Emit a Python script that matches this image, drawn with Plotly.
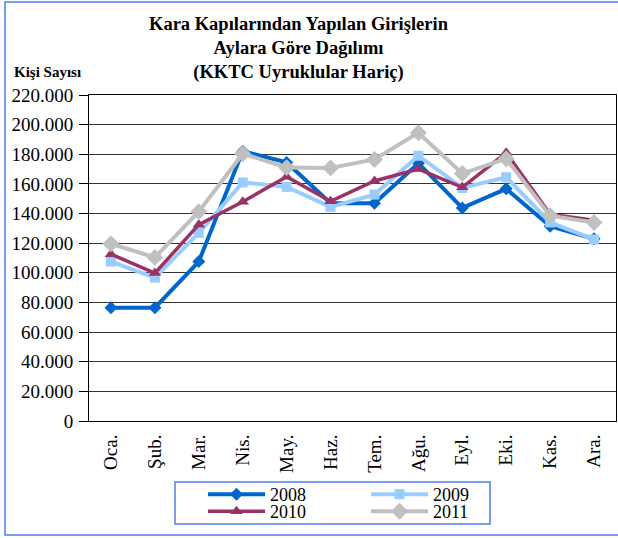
import plotly.graph_objects as go

months = ["Oca.", "Şub.", "Mar.", "Nis.", "May.", "Haz.", "Tem.", "Ağu.", "Eyl.", "Eki.", "Kas.", "Ara."]
y2008 = [76500, 76500, 107600, 182000, 174500, 147000, 147000, 174000, 143800, 156700, 131400, 123000]
y2009 = [107600, 96800, 126900, 161000, 158000, 144500, 152800, 179000, 157300, 164500, 134000, 122500]
y2010 = [112600, 99800, 132500, 148000, 164800, 148300, 162000, 170000, 157700, 181000, 139500, 135500]
y2011 = [119600, 110400, 141300, 180400, 171000, 170800, 176500, 194500, 167000, 177000, 138600, 134000]
y_ticks = list(range(0, 220001, 20000))

title_lines = ["Kara Kapılarından Yapılan Girişlerin", "Aylara Göre Dağılımı", "(KKTC Uyruklular Hariç)"]
y_title = "Kişi Sayısı"

FONT = "Liberation Serif"
W, H = 618, 538
L, R, T, B = 89, 2, 95, 117
PW, PH = W - L - R, H - T - B


def px(x):
    return (x - L) / PW


def py(y):
    return (H - B - y) / PH


series = [
    ("2008", y2008, "#0066CC", "diamond", 10, 4, "legend"),
    ("2009", y2009, "#99CCFF", "square", 10, 4, "legend"),
    ("2010", y2010, "#993366", "triangle-up", 11, 3.5, "legend2"),
    ("2011", y2011, "#C0C0C0", "diamond", 13, 4, "legend2"),
]

fig = go.Figure()
for name, vals, color, sym, size, lw, lg in series:
    fig.add_trace(go.Scatter(
        x=months, y=vals, name=name, mode="lines+markers",
        line=dict(color=color, width=lw),
        marker=dict(symbol=sym, size=size, color=color),
        legend=lg,
    ))

legend_common = dict(
    orientation="h", font=dict(family=FONT, size=18, color="black"),
    bgcolor="rgba(0,0,0,0)", itemwidth=57, entrywidth=91, entrywidthmode="pixels",
    xanchor="left", yanchor="top", x=px(203), tracegroupgap=0, itemclick=False,
)

fig.update_layout(
    width=W, height=H,
    margin=dict(l=L, r=R, t=T, b=B),
    paper_bgcolor="white", plot_bgcolor="white",
    separators=",.",
    font=dict(family=FONT, size=18, color="black"),
    showlegend=True,
    legend=dict(**legend_common, y=py(476)),
    legend2=dict(**legend_common, y=py(493)),
    xaxis=dict(
        tickangle=-90, tickfont=dict(family=FONT, size=19, color="black"),
        showline=True, linecolor="black", linewidth=1, mirror=True,
        showgrid=False, ticks="", range=[-0.5, 11.5], ticklabelstandoff=5,
    ),
    yaxis=dict(
        range=[0, 220000], tickvals=y_ticks, tickformat=",d",
        tickfont=dict(family=FONT, size=19, color="black"),
        showline=True, linecolor="black", linewidth=1, mirror=True,
        showgrid=True, gridcolor="#333333", gridwidth=1,
        ticks="outside", ticklen=9, tickcolor="black", zeroline=False,
        ticklabelstandoff=2,
    ),
    annotations=[
        dict(text="<br>".join(title_lines), xref="paper", yref="paper",
             x=px(299), y=py(12), xanchor="center", yanchor="top", showarrow=False,
             font=dict(family=FONT, size=18.5, color="black", weight="bold"), align="center"),
        dict(text=y_title, xref="paper", yref="paper",
             x=px(12), y=py(72), xanchor="left", yanchor="middle", showarrow=False,
             font=dict(family=FONT, size=15, color="black", weight="bold")),
    ],
    shapes=[
        dict(type="rect", xref="paper", yref="paper", x0=px(5), x1=px(640), y0=py(535), y1=py(2),
             line=dict(color="#4F7FE8", width=1.5), fillcolor="rgba(0,0,0,0)", layer="below"),
        dict(type="rect", xref="paper", yref="paper", x0=px(175), x1=px(490), y0=py(524), y1=py(482),
             line=dict(color="#4F7FE8", width=1.5), fillcolor="rgba(0,0,0,0)", layer="below"),
    ],
)

fig.write_html("out.html", config={"displayModeBar": False},
               post_script="document.body.style.margin='0';")
